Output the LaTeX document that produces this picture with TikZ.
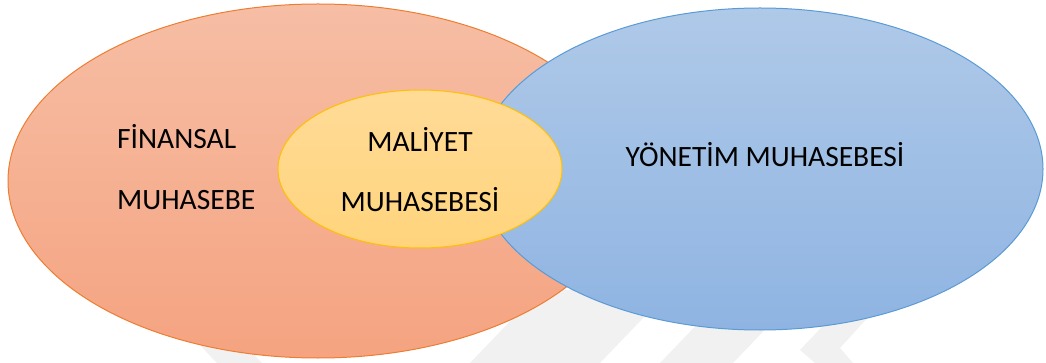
\documentclass[tikz,border=0pt]{standalone}
\usepackage{fontspec}
\setmainfont{Carlito}
\usetikzlibrary{shapes.geometric}
\definecolor{orTop}{HTML}{F6BEA5}
\definecolor{orBot}{HTML}{F5A380}
\definecolor{orLine}{HTML}{ED7D31}
\definecolor{blTop}{HTML}{AFC9E8}
\definecolor{blBot}{HTML}{8FB4E2}
\definecolor{blLine}{HTML}{5B9BD5}
\definecolor{yeTop}{HTML}{FFDB97}
\definecolor{yeBot}{HTML}{FFD47C}
\definecolor{yeLine}{HTML}{FFC000}
\definecolor{wm}{HTML}{F1F1F1}
\tikzset{
  blob/.style={ellipse, inner sep=0pt, outer sep=0pt, line width=1pt},
  lbl/.style={inner sep=0pt, font=\fontsize{29.5}{31}\selectfont, text=black},
  wmark/.style={fill=wm, draw=none}
}
\begin{document}
\begin{tikzpicture}[x=1pt,y=-1pt]
\useasboundingbox (0,0) rectangle (1046,363);
% faint watermark
\fill[wmark] (217,363) -- (262,363) -- (192,290) -- (147,290) -- cycle;
\fill[wmark] (470,363) -- (600,363) -- (670,290) -- (540,290) -- cycle;
\fill[wmark] (660,363) -- (733,363) -- (803,290) -- (730,290) -- cycle;
\fill[wmark] (800,350) -- (835,313) -- (872,313) -- (840,348) -- (853,363) -- (815,363) -- cycle;
% ellipses
\node[blob, draw=orLine, top color=orTop, bottom color=orBot,
      minimum width=620pt, minimum height=354pt] (fin) at (318,181) {};
\node[blob, draw=blLine, top color=blTop, bottom color=blBot,
      minimum width=566pt, minimum height=322pt] (yon) at (760,169) {};
\node[blob, draw=yeLine, top color=yeTop, bottom color=yeBot,
      minimum width=284pt, minimum height=158pt] (mal) at (420,169) {};
% labels
\node[lbl, anchor=base west] (t1) at (117,149) {FİNANSAL};
\node[lbl, anchor=base west] (t2) at (117,210) {MUHASEBE};
\node[lbl, anchor=base] (t3) at (420,152) {MALİYET};
\node[lbl, anchor=base] (t4) at (420,212) {MUHASEBESİ};
\node[lbl, anchor=base] (t5) at (765,167) {YÖNETİM MUHASEBESİ};
\end{tikzpicture}
\end{document}
